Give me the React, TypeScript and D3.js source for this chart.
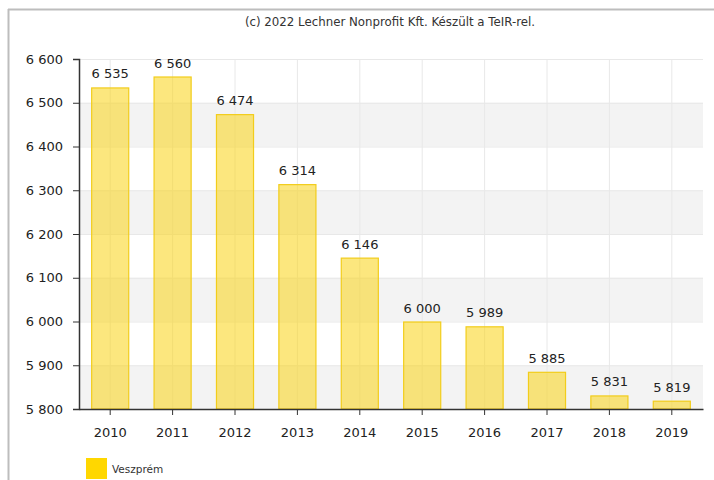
import React, { useEffect, useRef } from 'react';
import * as d3 from 'd3';

const years = ['2010', '2011', '2012', '2013', '2014', '2015', '2016', '2017', '2018', '2019'];
const values = [6535, 6560, 6474, 6314, 6146, 6000, 5989, 5885, 5831, 5819];
const yTicks = [5800, 5900, 6000, 6100, 6200, 6300, 6400, 6500, 6600];
const seriesName = 'Veszprém';
const credit = '(c) 2022 Lechner Nonprofit Kft. Készült a TeIR-rel.';

const W = 714;
const H = 480;
const FONT = 'DejaVu Sans, Verdana, sans-serif';

const fmt = (v: number) => d3.format(',')(v).replace(/,/g, ' ');

const App: React.FC = () => {
  const svgRef = useRef<SVGSVGElement>(null);

  useEffect(() => {
    if (!svgRef.current) return;
    const svg = d3.select(svgRef.current);
    svg.selectAll('*').remove();

    const margin = { top: 59, right: 11, bottom: 71, left: 79 };
    const innerW = W - margin.left - margin.right;
    const innerH = H - margin.top - margin.bottom;

    // frame lines (top and left)
    svg.append('line').attr('x1', 8).attr('x2', W).attr('y1', 9.5).attr('y2', 9.5)
      .style('stroke', '#bdbdbd').style('stroke-width', 2);
    svg.append('line').attr('x1', 8.5).attr('x2', 8.5).attr('y1', 9).attr('y2', H)
      .style('stroke', '#bdbdbd').style('stroke-width', 2);

    svg.append('text')
      .attr('x', 390).attr('y', 26)
      .attr('text-anchor', 'middle')
      .style('font-family', FONT).style('font-size', '11.8px').style('fill', '#333')
      .text(credit);

    const g = svg.append('g').attr('transform', `translate(${margin.left},${margin.top})`);

    const x = d3.scaleBand<string>().domain(years).range([0, innerW]).paddingInner(0.39).paddingOuter(0.195);
    const y = d3.scaleLinear().domain([5800, 6600]).range([innerH, 0]);

    // alternating bands
    for (let i = 0; i < yTicks.length - 1; i++) {
      if (i % 2 === 0) {
        g.append('rect')
          .attr('x', 0).attr('width', innerW)
          .attr('y', y(yTicks[i + 1])).attr('height', y(yTicks[i]) - y(yTicks[i + 1]))
          .style('fill', '#f3f3f3');
      }
    }

    // horizontal grid
    g.selectAll('.hgrid').data(yTicks).enter().append('line')
      .attr('x1', 0).attr('x2', innerW)
      .attr('y1', (d) => y(d) + 0.5).attr('y2', (d) => y(d) + 0.5)
      .style('stroke', '#e8e8e8');

    // vertical grid at band centers
    g.selectAll('.vgrid').data(years).enter().append('line')
      .attr('x1', (d) => x(d)! + x.bandwidth() / 2).attr('x2', (d) => x(d)! + x.bandwidth() / 2)
      .attr('y1', 0).attr('y2', innerH)
      .style('stroke', '#e8e8e8');

    // bars
    g.selectAll('.bar').data(values).enter().append('rect')
      .attr('x', (_, i) => x(years[i])! + 0.5)
      .attr('width', x.bandwidth() - 1)
      .attr('y', (d) => y(d) + 0.5)
      .attr('height', (d) => innerH - y(d) - 0.5)
      .style('fill', 'rgba(250, 212, 20, 0.55)')
      .style('stroke', '#f2cd1b')
      .style('stroke-width', 1.2);

    // value labels
    g.selectAll('.lbl').data(values).enter().append('text')
      .attr('x', (_, i) => x(years[i])! + x.bandwidth() / 2)
      .attr('y', (d) => y(d) - 9)
      .attr('text-anchor', 'middle')
      .style('font-family', FONT).style('font-size', '13px').style('fill', '#222')
      .text((d) => fmt(d));

    // y axis
    const yAxis = g.append('g').call(
      d3.axisLeft(y).tickValues(yTicks).tickSize(6).tickPadding(10).tickFormat((d) => fmt(d as number)),
    );
    yAxis.select('.domain').style('stroke', '#333').attr('stroke-width', 1.5);
    yAxis.selectAll('.tick line').style('stroke', '#333');
    yAxis.selectAll('text').style('font-family', FONT).style('font-size', '13px').style('fill', '#222');

    // x axis
    const xAxis = g.append('g').attr('transform', `translate(0,${innerH})`).call(
      d3.axisBottom(x).tickSize(6).tickSizeOuter(0).tickPadding(13),
    );
    xAxis.select('.domain').style('stroke', '#333').attr('stroke-width', 1.5);
    xAxis.selectAll('.tick line').style('stroke', '#333');
    xAxis.selectAll('text').style('font-family', FONT).style('font-size', '13px').style('fill', '#222');

    // legend
    svg.append('rect').attr('x', 86).attr('y', 458).attr('width', 21).attr('height', 21).style('fill', '#ffd700');
    svg.append('text').attr('x', 112).attr('y', 473)
      .style('font-family', FONT).style('font-size', '10.5px').style('fill', '#333')
      .text(seriesName);
  }, []);

  return (
    <svg
      ref={svgRef}
      width={W}
      height={H}
      style={{ position: 'absolute', left: 0, top: 0, display: 'block' }}
    />
  );
};

export default App;
